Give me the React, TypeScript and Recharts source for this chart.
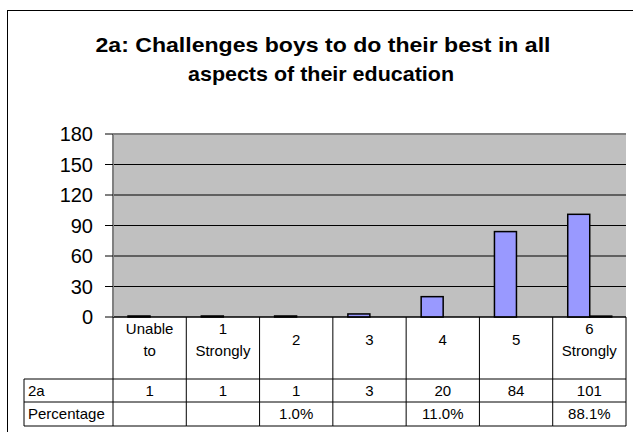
import React from 'react';
import { BarChart, Bar, XAxis, YAxis, CartesianGrid } from 'recharts';

// categories along the x axis (shown in the data table header)
const categories = ['Unable to', '1 Strongly', '2', '3', '4', '5', '6 Strongly'];
// series "2a" (counts)
const counts = [1, 1, 1, 3, 20, 84, 101];
// series "Percentage" (fractions, blank where not given)
const percentages = [null, null, 0.01, null, 0.11, null, 0.881];
const yTicks = [0, 30, 60, 90, 120, 150, 180];

const data = categories.map((name, i) => ({
  name,
  count: counts[i],
  pct: percentages[i],
}));

const W = 633;
const H = 432;
const PLOT_LEFT = 113;
const PLOT_RIGHT = 626;
const BAND = (PLOT_RIGHT - PLOT_LEFT) / categories.length;
const TABLE_LEFT = 24;
const ROW1 = 62; // header row bottom, relative to axis
const ROW2 = 85;
const ROW3 = 109;
const FONT = '"Liberation Sans", Arial, sans-serif';
const LINE = '#000';

const fmtPct = (v: number | null) => (v == null ? '' : (v * 100).toFixed(1) + '%');

const TableTick = (props: any) => {
  const { x, y, payload, index } = props;
  const half = BAND / 2;
  const words = String(payload.value).split(' ');
  const i = index as number;
  return (
    <g fontFamily={FONT} fontSize={15} fill="#000">
      {i === 0 && (
        <g>
          <line x1={x - half} y1={y} x2={x - half} y2={y + ROW3} stroke={LINE} />
          <line x1={TABLE_LEFT} y1={y + ROW1} x2={TABLE_LEFT} y2={y + ROW3} stroke={LINE} />
          <line x1={TABLE_LEFT} y1={y + ROW1} x2={x - half} y2={y + ROW1} stroke={LINE} />
          <line x1={TABLE_LEFT} y1={y + ROW2} x2={x - half} y2={y + ROW2} stroke={LINE} />
          <line x1={TABLE_LEFT} y1={y + ROW3} x2={x - half} y2={y + ROW3} stroke={LINE} />
          <text x={TABLE_LEFT + 4} y={y + ROW1 + 17}>2a</text>
          <text x={TABLE_LEFT + 4} y={y + ROW2 + 17}>Percentage</text>
        </g>
      )}
      <line x1={x + half} y1={y} x2={x + half} y2={y + ROW3} stroke={LINE} />
      <line x1={x - half} y1={y + ROW1} x2={x + half} y2={y + ROW1} stroke={LINE} />
      <line x1={x - half} y1={y + ROW2} x2={x + half} y2={y + ROW2} stroke={LINE} />
      <line x1={x - half} y1={y + ROW3} x2={x + half} y2={y + ROW3} stroke={LINE} />
      {words.length > 1 ? (
        <text textAnchor="middle">
          <tspan x={x} y={y + 17}>{words[0]}</tspan>
          <tspan x={x} y={y + 39}>{words.slice(1).join(' ')}</tspan>
        </text>
      ) : (
        <text x={x} y={y + 28} textAnchor="middle">{words[0]}</text>
      )}
      <text x={x} y={y + ROW1 + 17} textAnchor="middle">{counts[i]}</text>
      <text x={x} y={y + ROW2 + 17} textAnchor="middle">{fmtPct(percentages[i])}</text>
    </g>
  );
};

const ThinBar = (props: any) => {
  const { x, y, width, height, fill } = props;
  if (height == null || height < 0.3) return null;
  return <rect x={x} y={y} width={width} height={Math.max(height, 0.5)} fill={fill} stroke="#000" strokeWidth={1.5} />;
};

export default function App() {
  return (
    <div style={{ position: 'absolute', left: 0, top: 0, width: W, height: H, background: '#fff' }}>
      <BarChart
        width={W}
        height={H}
        data={data}
        margin={{ top: 134, right: W - PLOT_RIGHT, bottom: 0, left: 0 }}
        barCategoryGap="20.5%"
        barGap={0}
      >
        <CartesianGrid vertical={false} stroke="#000" fill="#C0C0C0" fillOpacity={1} />
        <XAxis
          dataKey="name"
          height={H - 317}
          interval={0}
          tickSize={0}
          tickMargin={0}
          tickLine={false}
          axisLine={{ stroke: '#000' }}
          tick={<TableTick />}
        />
        <YAxis
          width={PLOT_LEFT}
          domain={[0, 180]}
          ticks={yTicks}
          interval={0}
          tickSize={8}
          tickMargin={12}
          tickLine={{ stroke: '#000' }}
          axisLine={{ stroke: '#808080', strokeWidth: 2 }}
          tick={{ fill: '#000', fontSize: 20, fontFamily: FONT }}
        />
        <YAxis
          yAxisId="right"
          orientation="right"
          width={0}
          domain={[0, 180]}
          tick={false}
          tickLine={false}
          axisLine={{ stroke: '#808080', strokeWidth: 2 }}
        />
        <Bar dataKey="count" fill="#9999FF" shape={<ThinBar />} isAnimationActive={false} />
        <Bar dataKey="pct" fill="#993366" shape={<ThinBar />} isAnimationActive={false} />
      </BarChart>
      <svg width={W} height={H} style={{ position: 'absolute', left: 0, top: 0, pointerEvents: 'none' }}>
        <rect x={7.5} y={10.5} width={W} height={H} fill="none" stroke="#000" strokeWidth={1} />
        <line x1={PLOT_LEFT} y1={134} x2={PLOT_RIGHT} y2={134} stroke="#808080" strokeWidth={2} />
        <g fontFamily={FONT} fontSize={21} fontWeight="bold" textAnchor="middle">
          <text x={323} y={52} textLength={455} lengthAdjust="spacingAndGlyphs">
            2a: Challenges boys to do their best in all
          </text>
          <text x={321} y={81} textLength={266} lengthAdjust="spacingAndGlyphs">
            aspects of their education
          </text>
        </g>
      </svg>
    </div>
  );
}
